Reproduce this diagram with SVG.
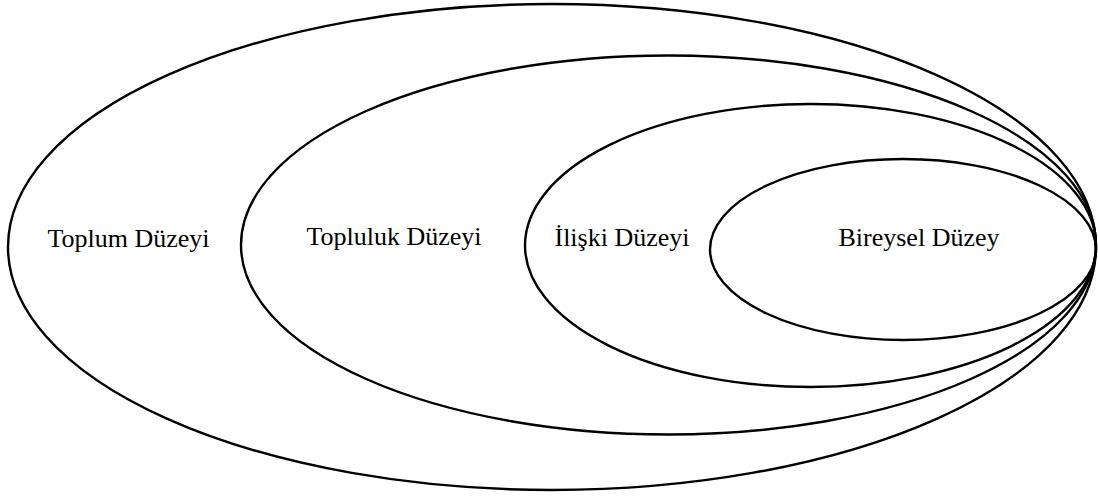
<svg xmlns="http://www.w3.org/2000/svg" width="1098" height="500" viewBox="0 0 1098 500">
<style>
.e{fill:none;stroke:#000;stroke-width:2.4}
.t{font-family:"Liberation Serif","Times New Roman",serif;font-size:26px;fill:#000;text-anchor:middle}
</style>
<rect width="1098" height="500" fill="#fff"/>
<g id="toplum"><ellipse class="e" cx="552" cy="247" rx="544" ry="243"/><text class="t" x="128.5" y="247">Toplum Düzeyi</text></g>
<g id="topluluk"><ellipse class="e" cx="668.5" cy="245" rx="427.5" ry="189.5"/><text class="t" x="394" y="245">Topluluk Düzeyi</text></g>
<g id="iliski"><ellipse class="e" cx="810.5" cy="245.5" rx="285.5" ry="141.5"/><text class="t" x="622" y="246">İlişki Düzeyi</text></g>
<g id="bireysel"><ellipse class="e" cx="903" cy="249.5" rx="193" ry="90.5"/><text class="t" x="919" y="246">Bireysel Düzey</text></g>
<g id="connectors"/>
</svg>
